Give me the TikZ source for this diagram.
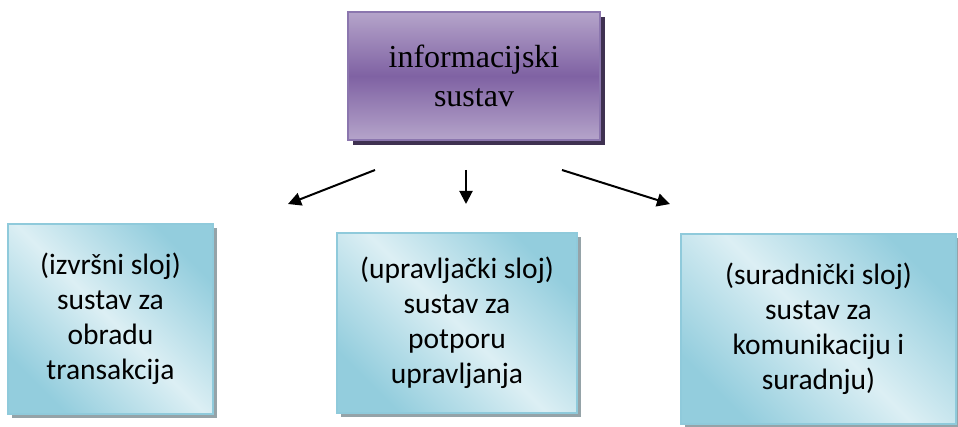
\documentclass[tikz,border=0pt]{standalone}
\usepackage{fontspec}
\setmainfont{Liberation Serif}
\newfontfamily\calfont{Carlito}
\usetikzlibrary{arrows.meta,shadows}

\definecolor{purplelight}{HTML}{B5A4CA}
\definecolor{purplemid}{HTML}{7F62A3}
\definecolor{purpleedge}{HTML}{8B76AE}
\definecolor{purpleshadow}{HTML}{3F3151}
\definecolor{bluedark}{HTML}{93CDDD}
\definecolor{bluelight}{HTML}{DCEFF4}
\definecolor{blueedge}{HTML}{8FCADB}
\definecolor{blueshadow}{HTML}{95A3A8}

\tikzset{
  topbox/.style={draw=purpleedge, line width=1.5pt,
    top color=purplelight, bottom color=purplelight, middle color=purplemid,
    drop shadow={shadow xshift=5pt, shadow yshift=-5pt, fill=purpleshadow, opacity=1},
    align=center, font=\fontsize{32}{39}\selectfont},
  layerbox/.style={draw=blueedge, line width=1.5pt,
    top color=bluedark, bottom color=bluedark, middle color=bluelight, shading angle=135,
    drop shadow={shadow xshift=4pt, shadow yshift=-4pt, fill=blueshadow, opacity=1},
    align=center, font=\calfont\fontsize{29.5}{35}\selectfont},
  pointer/.style={line width=2pt, -{Triangle[length=13pt,width=13pt]}}
}

\begin{document}
\begin{tikzpicture}[x=1pt, y=1pt]
  \useasboundingbox (0,0) rectangle (958,426);

  % Information system at the top
  \node[topbox, minimum width=252, minimum height=128] (sustav) at (474,350)
    {informacijski\\sustav};

  % Three layers
  \node[layerbox, minimum width=205, minimum height=190] (izvrsni) at (110.5,107)
    {(izvršni sloj)\\sustav za\\obradu\\transakcija};
  \node[layerbox, minimum width=240, minimum height=180] (upravljacki) at (457,103)
    {(upravljački sloj)\\sustav za\\potporu\\upravljanja};
  \node[layerbox, minimum width=275, minimum height=190] (suradnicki) at (818.5,97)
    {(suradnički sloj)\\sustav za\\komunikaciju i\\suradnju)};

  % Arrows between them
  \coordinate (lijevoA) at (375,256);
  \coordinate (lijevoB) at (288,222);
  \coordinate (sredinaA) at (466,256);
  \coordinate (sredinaB) at (466,222);
  \coordinate (desnoA) at (562,256);
  \coordinate (desnoB) at (670,222);
  \draw[pointer] (lijevoA) -- (lijevoB);
  \draw[pointer] (sredinaA) -- (sredinaB);
  \draw[pointer] (desnoA) -- (desnoB);
\end{tikzpicture}
\end{document}
